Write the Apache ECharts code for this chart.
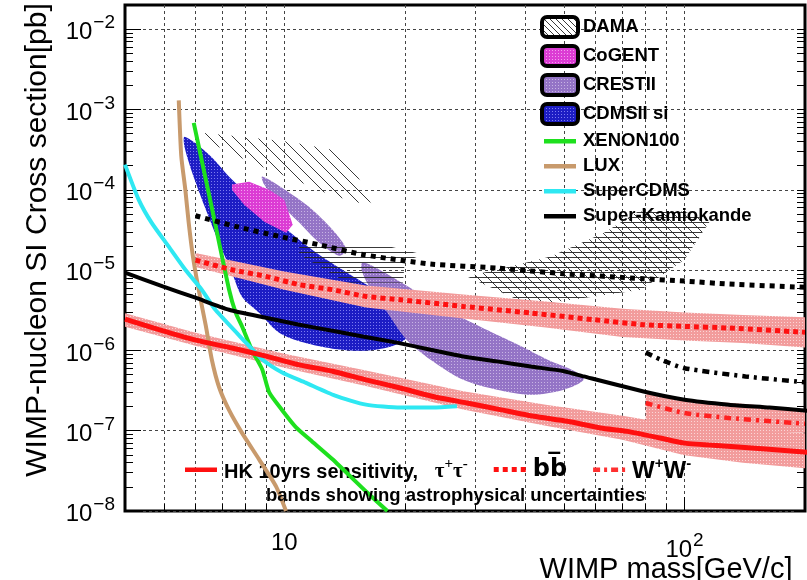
<!DOCTYPE html>
<html>
<head>
<meta charset="utf-8">
<script src="https://cdn.jsdelivr.net/npm/echarts@6/dist/echarts.min.js"></script>
<style>
html, body { margin: 0; padding: 0; background: #fff; }
#main { width: 807px; height: 580px; }
</style>
</head>
<body>
<div id="main"></div>
<script>
// axis ticks / labels
var xTicks = [5, 6, 7, 8, 9, 10, 20, 30, 40, 50, 60, 70, 80, 90, 100];
var xLabels = [10, 100];
var yDecades = [1e-8, 1e-7, 1e-6, 1e-5, 1e-4, 1e-3, 1e-2];
var yMinor = [];
yDecades.forEach(function (d) {
    for (var k = 2; k < 10; k++) { if (d * k < 0.02) yMinor.push(d * k); }
});

// direct detection limits
var luxMass = [5.45, 5.53, 5.66, 5.77, 5.91, 6.1, 6.37, 6.59, 6.87, 7.28, 7.84, 8.65, 9.55, 10.1];
var luxSigma = [1.3e-3, 2.6e-4, 1.0e-4, 3.9e-5, 1.5e-5, 6.0e-6, 2.0e-6, 7.7e-7, 3.5e-7, 1.8e-7, 9.4e-8, 4.4e-8, 2.0e-8, 1.0e-8];
var xenonMass = [5.94, 6.6, 7.28, 7.56, 7.84, 8.31, 8.81, 9.17, 9.88, 10.7, 11.6, 13.2, 16.1, 18.1];
var xenonSigma = [6.8e-4, 5.8e-5, 5.7e-6, 2.95e-6, 2.0e-6, 1.0e-6, 5.8e-7, 3.0e-7, 1.8e-7, 1.1e-7, 7.7e-8, 4.4e-8, 1.7e-8, 1.0e-8];
var scdmsMass = [4.0, 4.33, 4.66, 5.14, 5.66, 6.22, 6.73, 8.02, 8.81, 9.88, 11.3, 13.4, 16.0, 19.5, 23.5, 27.0];
var scdmsSigma = [2.06e-4, 7.5e-5, 3.9e-5, 1.97e-5, 1.01e-5, 5.7e-6, 3.2e-6, 1.25e-6, 7.7e-7, 5.3e-7, 3.96e-7, 2.73e-7, 2.11e-7, 1.94e-7, 1.94e-7, 2.01e-7];

// Super-Kamiokande
var skMass = [4.0, 4.97, 6.0, 7.28, 9.0, 10.9, 13.5, 15.7, 19.1, 23.2, 28.0, 34.0, 41.3, 50, 56, 79, 100, 129, 163, 203];
var skSigma = [9.3e-6, 6.26e-6, 4.53e-6, 3.21e-6, 2.55e-6, 2.09e-6, 1.72e-6, 1.49e-6, 1.25e-6, 1.02e-6, 8.4e-7, 7.3e-7, 6.3e-7, 5.5e-7, 4.74e-7, 3.08e-7, 2.43e-7, 2.11e-7, 1.94e-7, 1.77e-7];
var skBbMass = [6.0, 7.56, 9.71, 12.2, 15.7, 23.2, 34.0, 50, 79, 100, 129, 200];
var skBbSigma = [4.75e-5, 3.5e-5, 2.63e-5, 2.07e-5, 1.56e-5, 1.19e-5, 1.06e-5, 9.0e-6, 7.8e-6, 7.3e-6, 6.7e-6, 6.1e-6];
var skWwMass = [80, 87, 100, 142, 200];
var skWwSigma = [9.4e-7, 7.7e-7, 6.0e-7, 4.74e-7, 4.0e-7];

// Hyper-Kamiokande 10 yrs
var hkTauMass = [4.0, 4.86, 5.94, 7.4, 9.0, 10.9, 13.2, 16.0, 19.5, 23.5, 28.6, 34.6, 42, 51, 61.7, 72, 87, 100, 128, 203];
var hkTauSigma = [2.45e-6, 1.81e-6, 1.36e-6, 1.07e-6, 8.5e-7, 6.6e-7, 5.5e-7, 4.3e-7, 3.4e-7, 2.67e-7, 2.21e-7, 1.83e-7, 1.51e-7, 1.31e-7, 1.08e-7, 9.8e-8, 8.1e-8, 7.0e-8, 6.4e-8, 5.4e-8];
var hkBbMass = [6.0, 7.4, 9.0, 10.9, 13.2, 16.0, 19.5, 28.0, 41.3, 59.4, 79, 100, 129, 200];
var hkBbSigma = [1.33e-5, 1.01e-5, 8.35e-6, 6.58e-6, 5.7e-6, 4.7e-6, 4.28e-6, 3.53e-6, 2.92e-6, 2.41e-6, 2.09e-6, 1.99e-6, 1.90e-6, 1.68e-6];
var hkWwMass = [80, 100, 129, 200];
var hkWwSigma = [2.21e-7, 1.66e-7, 1.44e-7, 1.22e-7];

// astrophysical uncertainty bands
var tauBandMass = [4, 6, 10, 16, 28, 45, 70, 100, 140, 200];
var tauBandUp = [2.9e-6, 1.66e-6, 9.1e-7, 5.6e-7, 3.1e-7, 2.1e-7, 1.54e-7, 1.14e-7, 1.04e-7, 9.3e-8];
var tauBandLo = [1.97e-6, 1.14e-6, 6.1e-7, 3.6e-7, 1.84e-7, 1.15e-7, 7.7e-8, 4.96e-8, 4.0e-8, 3.4e-8];
var bbBandMass = [6, 10, 16, 28, 45, 70, 100, 140, 200];
var bbBandUp = [1.63e-5, 9.6e-6, 6.44e-6, 4.98e-6, 4.07e-6, 3.3e-6, 2.97e-6, 2.76e-6, 2.58e-6];
var bbBandLo = [1.09e-5, 5.7e-6, 3.43e-6, 2.5e-6, 1.93e-6, 1.47e-6, 1.33e-6, 1.24e-6, 1.09e-6];
var wwBandMass = [80, 100, 140, 200];
var wwBandUp = [3.08e-7, 2.43e-7, 2.17e-7, 1.82e-7];
var wwBandLo = [1.31e-7, 1.06e-7, 1.0e-7, 9.4e-8];

// signal regions [mass, sigma]
var damaNa = [[6.22, 5.14e-4], [7.84, 4.58e-4], [10.3, 3.97e-4], [13.2, 3.16e-4], [15.0, 1.78e-4], [16.6, 6.17e-5], [13.0, 8.7e-5], [10.3, 1.42e-4], [8.17, 2.24e-4], [6.67, 3.65e-4]];
var damaI = [[76.6, 5.38e-5], [100, 5.38e-5], [115.6, 4.04e-5], [100, 1.35e-5], [78, 5.7e-6], [46.3, 3.93e-6], [38.2, 4.29e-6], [28.6, 8.35e-6], [36.7, 1.11e-5], [46.3, 1.48e-5], [63, 2.92e-5]];
var damaMid = [[10.9, 2.07e-5], [17.6, 2.07e-5], [22.2, 1.56e-5], [20.0, 1.27e-5], [19.8, 7.0e-6], [14.3, 7.0e-6], [10.9, 1.56e-5]];
var cogent = [[7.40, 1.16e-4], [8.17, 1.26e-4], [9.17, 1.0e-4], [10, 7.5e-5], [10.5, 3.67e-5], [10.1, 2.92e-5], [8.91, 4.0e-5], [7.94, 6.5e-5], [7.40, 1.0e-4]];
var cresstA = [[8.81, 1.46e-4], [10.3, 9.2e-5], [11.6, 5.98e-5], [13.2, 3.18e-5], [14.3, 1.8e-5], [13.7, 1.51e-5], [12.0, 2.39e-5], [10.9, 3.9e-5], [9.71, 6.9e-5], [8.91, 1.16e-4]];
var cresstB = [[15.7, 1.24e-5], [17.3, 1.01e-5], [21.0, 5.7e-6], [25.5, 3.21e-6], [30.9, 1.97e-6], [37.4, 1.25e-6], [45.5, 7.66e-7], [53.5, 5.43e-7], [56.0, 4.3e-7], [50, 3.24e-7], [41.3, 2.8e-7], [34.0, 3.24e-7], [28.0, 4.3e-7], [23.2, 7.66e-7], [20.2, 1.36e-6], [18.1, 2.95e-6], [16.3, 6.2e-6], [15.6, 1.01e-5]];
var cdms = [[5.64, 4.58e-4], [6.49, 2.74e-4], [7.40, 1.34e-4], [8.65, 6.5e-5], [10.3, 3.0e-5], [12.2, 1.56e-5], [14.6, 8.8e-6], [17.3, 5.2e-6], [19.5, 3.2e-6], [20.8, 1.81e-6], [20.0, 1.36e-6], [18.4, 1.11e-6], [15.9, 9.9e-7], [13.2, 1.05e-6], [11.2, 1.25e-6], [9.71, 1.66e-6], [8.65, 2.95e-6], [7.84, 4.67e-6], [7.40, 9.3e-6], [6.87, 2.19e-5], [6.37, 5.65e-5], [5.97, 1.34e-4], [5.64, 3.34e-4]];

var FONT = 'Liberation Sans';

// fill textures
function dots(base, dot) {
    var c = document.createElement('canvas');
    c.width = 3; c.height = 3;
    var g = c.getContext('2d');
    g.fillStyle = base; g.fillRect(0, 0, 3, 3);
    g.fillStyle = dot; g.fillRect(1, 1, 1, 1);
    return {image: c, repeat: 'repeat'};
}
function hatch(size, diag, horiz, bg) {
    var c = document.createElement('canvas');
    c.width = size; c.height = size;
    var g = c.getContext('2d');
    if (bg) { g.fillStyle = bg; g.fillRect(0, 0, size, size); }
    g.strokeStyle = '#222'; g.lineWidth = 0.9;
    g.beginPath();
    if (diag) {
        g.moveTo(0, 0); g.lineTo(size, size);
        g.moveTo(-2, size - 2); g.lineTo(2, size + 2);
        g.moveTo(size - 2, -2); g.lineTo(size + 2, 2);
    }
    horiz.forEach(function (y) { g.moveTo(0, y); g.lineTo(size, y); });
    g.stroke();
    return {image: c, repeat: 'repeat'};
}

var fillDiag = hatch(12, true, [], null);
var fillCross = hatch(10, true, [2.5, 7.5], null);
var fillHoriz = hatch(10, false, [2.5, 7.5], null);
var fillCdms = dots('#1d1dc4', '#7c7cf0');
var fillCogent = dots('#dc3cd4', '#f4a0ee');
var fillCresst = dots('#9474c6', '#c8b4e4');
var fillBand = dots('#f29c9c', '#fbd6d6');

function pairs(xs, ys) { return xs.map(function (x, i) { return [x, ys[i]]; }); }
function band(xs, up, lo) { return pairs(xs, up).concat(pairs(xs, lo).reverse()); }

function regionSeries(name, shapes, fills, smooth, z) {
    return {
        name: name, type: 'custom', coordinateSystem: 'cartesian2d', z: z, silent: true,
        itemStyle: {color: '#000'},
        data: shapes.map(function (s) { return s[0]; }),
        renderItem: function (params, api) {
            var pts = shapes[params.dataIndex].map(function (p) { return api.coord(p); });
            return {type: 'polygon', shape: {points: pts, smooth: smooth},
                style: {fill: fills[params.dataIndex], stroke: null}};
        }
    };
}
function lineSeries(name, xs, ys, color, width, dash, z) {
    return {
        name: name, type: 'line', z: z, silent: true, symbol: 'none', smooth: 0.2,
        data: pairs(xs, ys),
        lineStyle: {color: color, width: width, type: dash || 'solid', cap: 'butt'},
        itemStyle: {color: color}
    };
}

var HK = 'HK 10yrs sensitivity, tau';
var BB = 'bb';
var WW = 'WW';

// legend icon shapes (outer points only fix the box size)
var barIcon = 'path://M0,0h0.01v0.01zM2,8h32v4.5h-32zM35.99,19.99h0.01v0.01z';
var dotIcon = 'path://M0,0h0.01v0.01zM2,7.5h5v5h-5zM11,7.5h5v5h-5zM20,7.5h5v5h-5zM29,7.5h5v5h-5zM35.99,19.99h0.01v0.01z';
var dashDotIcon = 'path://M0,0h0.01v0.01zM2,8h7v4.5h-7zM13,8h3v4.5h-3zM20,8h7v4.5h-7zM31,8h3v4.5h-3zM35.99,19.99h0.01v0.01z';

function boxItem(name, color) {
    return {name: name, icon: 'roundRect', itemStyle: {color: color, borderColor: '#000', borderWidth: 4}};
}
function barItem(name, color, icon) {
    return {name: name, icon: icon || barIcon, itemStyle: {color: color, borderWidth: 0}};
}

var supStyle = {fontSize: 19, fontFamily: FONT, color: '#000', padding: [0, 0, 12, 1], verticalAlign: 'bottom'};
var baseStyle = {fontSize: 24, fontFamily: FONT, color: '#000', verticalAlign: 'bottom'};

var option = {
    animation: false,
    backgroundColor: '#fff',
    textStyle: {fontFamily: FONT},
    grid: {left: 125, top: 5, width: 680, height: 506, show: true, borderColor: '#000', borderWidth: 3,
        backgroundColor: 'transparent', outerBoundsMode: 'none', containLabel: false},
    title: {
        text: 'bands showing astrophysical uncertainties',
        left: 266, top: 486, padding: 0,
        textStyle: {fontSize: 18.5, fontWeight: 'bold', fontFamily: FONT, color: '#000'}
    },
    legend: [{
        orient: 'vertical', left: 540, top: 15, padding: 0,
        itemWidth: 36, itemHeight: 20, itemGap: 5, selectedMode: false,
        textStyle: {fontSize: 18.5, fontWeight: 'bold', fontFamily: FONT, color: '#000', lineHeight: 20},
        data: [
            boxItem('DAMA', hatch(6, true, [], '#fff')),
            boxItem('CoGENT', fillCogent),
            boxItem('CRESTII', fillCresst),
            boxItem('CDMSII si', fillCdms),
            barItem('XENON100', '#1ee01e'),
            barItem('LUX', '#c89a6c'),
            barItem('SuperCDMS', '#2ee8f2'),
            barItem('Super-Kamiokande', '#000')
        ]
    }, {
        orient: 'horizontal', left: 183, top: 456, padding: 0,
        itemWidth: 36, itemHeight: 20, itemGap: 24, selectedMode: false,
        textStyle: {
            fontSize: 20, fontWeight: 'bold', fontFamily: FONT, color: '#000',
            rich: {
                a: {fontSize: 20, fontWeight: 'bold', fontFamily: FONT, verticalAlign: 'bottom'},
                t: {fontSize: 21, fontFamily: 'Liberation Serif', verticalAlign: 'bottom'},
                u: {fontSize: 15, fontFamily: 'Liberation Serif', padding: [0, 0, 10, 0], verticalAlign: 'bottom'},
                w: {fontSize: 24, fontWeight: 'bold', fontFamily: FONT, verticalAlign: 'bottom'},
                v: {fontSize: 15, fontWeight: 'bold', fontFamily: FONT, padding: [0, 0, 12, 0], verticalAlign: 'bottom'},
                c: {fontSize: 24, fontWeight: 'bold', fontFamily: 'DejaVu Sans', verticalAlign: 'bottom'}
            }
        },
        formatter: function (name) {
            if (name === HK) return '{a|HK 10yrs sensitivity,}   {t|\u03c4}{u|+}{t|\u03c4}{u|-}';
            if (name === BB) return '{c|bb\u0305}';
            return '{w|W}{v|+}{w|W}{v|-}';
        },
        data: [barItem(HK, '#ff1010'), barItem(BB, '#ff1010', dotIcon), barItem(WW, '#ff3030', dashDotIcon)]
    }],
    xAxis: [{
        type: 'log', logBase: 10, min: 4, max: 200, position: 'bottom',
        name: 'WIMP mass[GeV/c]', nameLocation: 'middle', nameGap: 44, nameMoveOverlap: false,
        nameTextStyle: {fontSize: 29, fontFamily: FONT, color: '#000', verticalAlign: 'top', padding: [0, 0, 0, 402]},
        axisLine: {show: false},
        axisTick: {show: true, inside: true, length: 7, customValues: xTicks, lineStyle: {color: '#000', width: 1}},
        splitLine: {show: true, lineStyle: {color: '#444', width: 1, type: [3, 3]}},
        axisLabel: {
            customValues: xLabels, margin: 20, color: '#000',
            formatter: function (v) { return v >= 100 ? '{b|10}{s|2}' : '{b|10}'; },
            rich: {b: baseStyle, s: supStyle}
        }
    }, {
        type: 'log', logBase: 10, min: 4, max: 200, position: 'bottom',
        axisLine: {show: false}, splitLine: {show: false}, axisLabel: {show: false},
        axisTick: {show: true, inside: true, length: 14, customValues: xLabels, lineStyle: {color: '#000', width: 1}}
    }],
    yAxis: [{
        type: 'log', logBase: 10, min: 1e-8, max: 0.02, position: 'left',
        name: 'WIMP-nucleon SI Cross section[pb]', nameLocation: 'middle', nameRotate: 90, nameGap: 72,
        nameMoveOverlap: false,
        nameTextStyle: {fontSize: 30, fontFamily: FONT, color: '#000', padding: [0, 0, 0, 36]},
        axisLine: {show: false},
        axisTick: {show: true, inside: true, length: 16, customValues: yDecades, lineStyle: {color: '#000', width: 1}},
        splitLine: {show: true, lineStyle: {color: '#444', width: 1, type: [3, 3]}},
        axisLabel: {
            customValues: yDecades, margin: 10, color: '#000',
            formatter: function (v) { return '{b|10}{s|\u2212' + Math.abs(Math.round(Math.log10(v))) + '}'; },
            rich: {b: baseStyle, s: supStyle}
        }
    }, {
        type: 'log', logBase: 10, min: 1e-8, max: 0.02, position: 'left',
        axisLine: {show: false}, splitLine: {show: false}, axisLabel: {show: false},
        axisTick: {show: true, inside: true, length: 8, customValues: yMinor, lineStyle: {color: '#000', width: 1}}
    }, {
        type: 'log', logBase: 10, min: 1e-8, max: 0.02, position: 'right',
        axisLine: {show: false}, splitLine: {show: false}, axisLabel: {show: false},
        axisTick: {show: true, inside: true, length: 8, customValues: yMinor.concat(yDecades), lineStyle: {color: '#000', width: 1}}
    }],
    series: [
        regionSeries('CDMSII si', [cdms], [fillCdms], 0.3, 2),
        regionSeries('CRESTII', [cresstA, cresstB], [fillCresst, fillCresst], 0.3, 2),
        regionSeries('CoGENT', [cogent], [fillCogent], 0, 2),
        regionSeries('DAMA', [damaNa, damaI], [fillDiag, fillCross], 0, 2),
        regionSeries('DAMA mid', [damaMid], [fillHoriz], 0, 2),
        regionSeries('tau band', [band(tauBandMass, tauBandUp, tauBandLo)], [fillBand], 0, 3),
        regionSeries('bb band', [band(bbBandMass, bbBandUp, bbBandLo)], [fillBand], 0, 3),
        regionSeries('ww band', [band(wwBandMass, wwBandUp, wwBandLo)], [fillBand], 0, 3),
        lineSeries('XENON100', xenonMass, xenonSigma, '#1ee01e', 4, null, 4),
        lineSeries('LUX', luxMass, luxSigma, '#c89a6c', 4, null, 4),
        lineSeries('SuperCDMS', scdmsMass, scdmsSigma, '#2ee8f2', 4, null, 4),
        lineSeries('Super-Kamiokande', skMass, skSigma, '#000', 4, null, 5),
        lineSeries('SK bb', skBbMass, skBbSigma, '#000', 5, [5, 5], 5),
        lineSeries('SK ww', skWwMass, skWwSigma, '#000', 4.5, [7, 5, 3, 5], 5),
        lineSeries(HK, hkTauMass, hkTauSigma, '#ff1010', 5, null, 6),
        lineSeries(BB, hkBbMass, hkBbSigma, '#ff1010', 5, [5, 4], 6),
        lineSeries(WW, hkWwMass, hkWwSigma, '#ff2020', 4.5, [7, 5, 3, 5], 6)
    ]
};

var chart = echarts.init(document.getElementById('main'));
chart.setOption(option);
</script>
</body>
</html>
